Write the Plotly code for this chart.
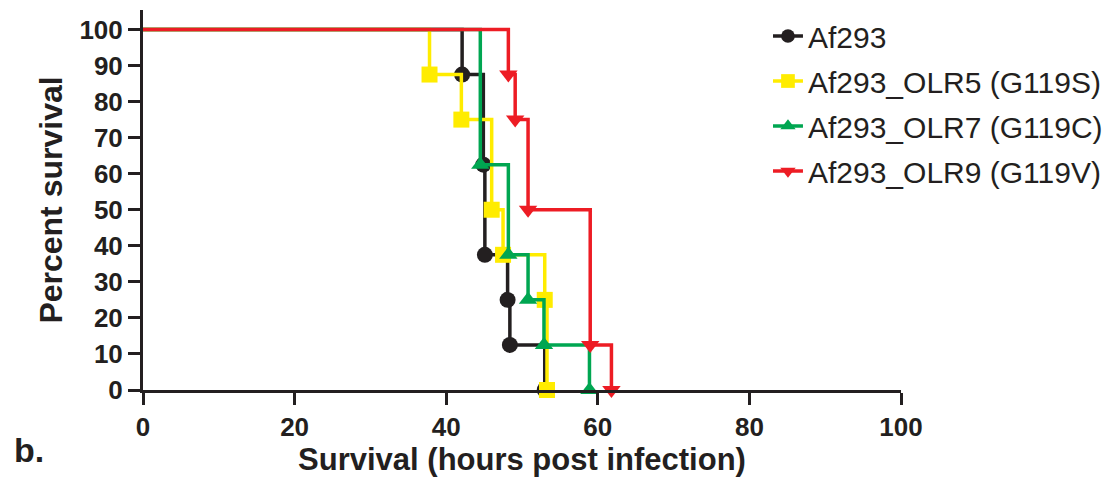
import plotly.graph_objects as go

# Kaplan-Meier survival steps: time (hours) and percent surviving after each event
strains = ["Af293", "Af293_OLR5 (G119S)", "Af293_OLR7 (G119C)", "Af293_OLR9 (G119V)"]

af293_hours = [0, 42.1, 44.9, 45.1, 48.1, 48.4, 53.0]
af293_surv = [100, 87.5, 62.5, 37.5, 25, 12.5, 0]

olr5_hours = [0, 37.8, 42.0, 46.0, 47.5, 53.0, 53.3]
olr5_surv = [100, 87.5, 75, 50, 37.5, 25, 0]

olr7_hours = [0, 44.5, 48.2, 50.8, 52.9, 58.9]
olr7_surv = [100, 62.5, 37.5, 25, 12.5, 0]

olr9_hours = [0, 48.2, 49.1, 50.8, 59.0, 61.8]
olr9_surv = [100, 87.5, 75, 50, 12.5, 0]

x_ticks = [0, 20, 40, 60, 80, 100]
y_ticks = [0, 10, 20, 30, 40, 50, 60, 70, 80, 90, 100]

colors = ["#231F20", "#FFEC00", "#00A651", "#ED1C24"]
symbols = ["circle", "square", "triangle-up", "triangle-down"]
series = [
    (af293_hours, af293_surv),
    (olr5_hours, olr5_surv),
    (olr7_hours, olr7_surv),
    (olr9_hours, olr9_surv),
]

FONT = "Liberation Sans, Arial, sans-serif"
INK = "#231F20"
MARK = 16

fig = go.Figure()
for name, (hrs, surv), col, sym in zip(strains, series, colors, symbols):
    # no marker at the starting point (0 h, 100 %)
    sizes = [0] + [MARK] * (len(hrs) - 1)
    fig.add_trace(go.Scatter(
        x=hrs, y=surv, name=name, legendgroup=name,
        mode="lines+markers",
        line=dict(color=col, width=3.5, shape="hv"),
        marker=dict(symbol=sym, size=sizes, color=col, opacity=1,
                    line=dict(width=0)),
        cliponaxis=False,
    ))

fig.update_layout(
    width=1119, height=479,
    margin=dict(l=143, r=218, t=10, b=88.5),
    paper_bgcolor="white", plot_bgcolor="white",
    font=dict(family=FONT, color=INK),
    showlegend=True,
    legend=dict(
        x=0.8245, y=1.0, xanchor="left", yanchor="top",
        font=dict(family=FONT, size=30, color=INK),
        bgcolor="rgba(0,0,0,0)", tracegroupgap=3,
    ),
    xaxis=dict(
        range=[0, 100], tickvals=x_ticks, ticktext=[str(v) for v in x_ticks],
        showgrid=False, zeroline=False,
        showline=True, linecolor=INK, linewidth=3,
        ticks="outside", ticklen=12, tickwidth=3, tickcolor=INK,
        tickfont=dict(family=FONT, size=26, color=INK, weight="bold"),
        title=dict(text="<b>Survival (hours post infection)</b>",
                   font=dict(family=FONT, size=31, color=INK), standoff=6),
    ),
    yaxis=dict(
        range=[0, 105.4], tickvals=y_ticks, ticktext=[str(v) for v in y_ticks],
        showgrid=False, zeroline=False,
        showline=True, linecolor=INK, linewidth=3,
        ticks="outside", ticklen=12, tickwidth=3, tickcolor=INK,
        tickfont=dict(family=FONT, size=26, color=INK, weight="bold"),
        title=dict(text="<b>Percent survival</b>",
                   font=dict(family=FONT, size=32, color=INK), standoff=8),
    ),
    annotations=[dict(
        text="<b>b.</b>", xref="paper", yref="paper",
        x=-0.1728, y=-0.159, xanchor="left", yanchor="middle",
        showarrow=False, font=dict(family=FONT, size=34, color=INK),
    )],
)

fig.write_html("out.html")
